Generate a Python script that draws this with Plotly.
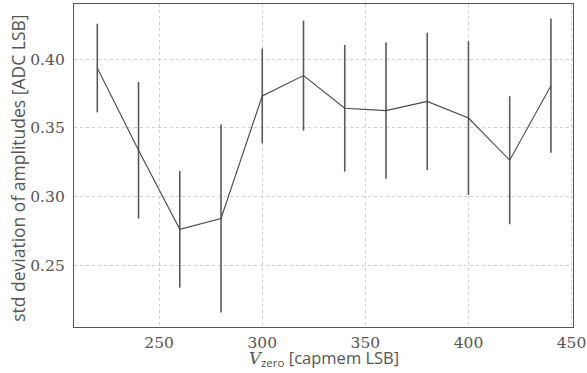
import plotly.graph_objects as go

# Capmem V_zero setting [capmem LSB]
v_zero = [220, 240, 260, 280, 300, 320, 340, 360, 380, 400, 420, 440]
# Standard deviation of amplitudes [ADC LSB]
std_amp = [0.3935, 0.3338, 0.2764, 0.2843, 0.3732, 0.3880, 0.3643, 0.3626,
           0.3693, 0.3572, 0.3266, 0.3807]
# Uncertainty on the standard deviation
std_err = [0.0322, 0.0496, 0.0423, 0.0683, 0.0343, 0.0400, 0.0460, 0.0495,
           0.0498, 0.0558, 0.0465, 0.0487]

x_ticks = [250, 300, 350, 400, 450]
y_ticks = [0.25, 0.30, 0.35, 0.40]

serif = "DejaVu Serif"
sans = "Open Sans"
text_grey = "#555555"

fig = go.Figure()

fig.add_trace(go.Scatter(
    x=v_zero,
    y=std_amp,
    mode="lines",
    line=dict(color="#474747", width=1.1),
    error_y=dict(type="data", array=std_err, visible=True,
                 color="#5a5a5a", thickness=1.6, width=0),
    showlegend=False,
))

axis_common = dict(
    showline=True,
    linecolor=text_grey,
    linewidth=1.3,
    mirror=True,
    ticks="",
    showgrid=True,
    gridcolor="#cfcfcf",
    griddash="3px,3px",
    gridwidth=1,
    zeroline=False,
    automargin=False,
    ticklabeloverflow="allow",
    tickfont=dict(family=serif, size=15.5, color=text_grey),
)

fig.update_xaxes(
    **axis_common,
    range=[208.7, 450.7],
    tickvals=x_ticks,
    ticktext=[str(v) for v in x_ticks],
    ticklabelstandoff=1,
)

fig.update_yaxes(
    **axis_common,
    range=[0.2055, 0.44],
    tickvals=y_ticks,
    ticktext=[f"{v:.2f}" for v in y_ticks],
    ticklabelstandoff=5,
)

# Axis titles
fig.add_annotation(
    text=f'<span style="font-family:{serif}"><i>V</i></span>'
         '<sub>zero</sub> [capmem LSB]',
    xref="paper", yref="paper", x=0.5, y=-0.139,
    xanchor="center", yanchor="bottom", showarrow=False,
    font=dict(family=sans, size=16.5, color=text_grey),
)
fig.add_annotation(
    text="std deviation of amplitudes [ADC LSB]",
    xref="paper", yref="paper", x=-0.112, y=0.49,
    xanchor="center", yanchor="middle", showarrow=False, textangle=-90,
    font=dict(family=sans, size=17.5, color=text_grey),
)

fig.update_layout(
    width=587,
    height=373,
    margin=dict(l=74, r=14, t=3.5, b=46.3),
    paper_bgcolor="white",
    plot_bgcolor="white",
)

fig.write_html("out.html")
